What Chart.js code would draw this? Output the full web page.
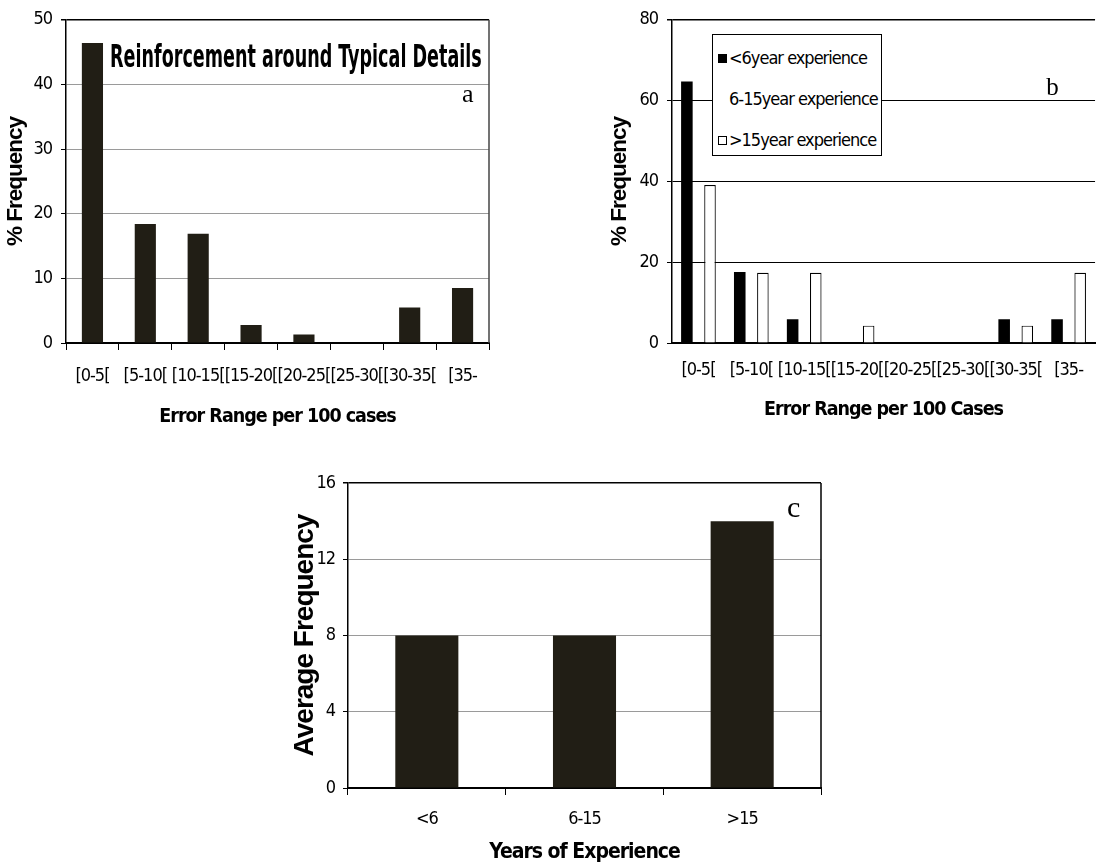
<!DOCTYPE html>
<html>
<head>
<meta charset="utf-8">
<script src="https://cdn.jsdelivr.net/npm/chart.js@4.4.0/dist/chart.umd.min.js"></script>
<style>
    html, body { margin: 0; padding: 0; width: 1097px; height: 868px; overflow: hidden; background: #fff; }
    .panel { position: absolute; }
    #legendB {
        position: absolute; left: 712px; top: 34px; width: 170px; height: 122px;
        border: 1px solid #000; background: #fff; box-sizing: border-box;
        padding-top: 2px;
        font-family: 'DejaVu Sans Condensed', 'Liberation Sans Narrow', sans-serif;
        font-size: 18px; letter-spacing: -1px; color: #000;
    }
    #legendB .row { height: 41px; line-height: 41px; white-space: nowrap; }
    #legendB .mark { display: inline-block; width: 9px; height: 9px; margin: 0 2px 0 5px; box-sizing: border-box; vertical-align: middle; position: relative; top: -1px; }
</style>
</head>
<body>
<div class="panel" style="left:0;top:0;"><canvas id="chart-a" width="500" height="432"></canvas></div>
<div class="panel" style="left:560px;top:0;"><canvas id="chart-b" width="540" height="432"></canvas></div>
<div id="legendB"></div>
<div class="panel" style="left:260px;top:440px;"><canvas id="chart-c" width="580" height="428"></canvas></div>

<script>
// ==================== DATOS ====================
const rangeLabels = ['[0-5[', '[5-10[', '[10-15[', '[15-20[', '[20-25[', '[25-30[', '[30-35[', '[35-'];

// (a) Reinforcement around Typical Details
const typicalDetailsPct = [46.4, 18.4, 16.9, 2.8, 1.3, 0, 5.5, 8.5];

// (b) por experiencia
const expGroupLabels = ['<6year experience', '6-15year experience', '>15year experience'];
const under6Pct  = [64.7, 17.6, 5.9, 0, 0, 0, 5.9, 5.9];
const from6to15Pct = [null, null, null, null, null, null, null, null]; // serie sin barras visibles
const over15Pct  = [39.1, 17.4, 17.4, 4.3, 0, 0, 4.3, 17.4];

// (c) promedio por a침os
const yearsLabels = ['<6', '6-15', '>15'];
const avgFrequency = [8, 8, 14];

// ==================== ESTILO ====================
const NARROW = "'DejaVu Sans Condensed', 'Liberation Sans Narrow', sans-serif";
const ARIAL = "'Liberation Sans', Arial, sans-serif";
const SERIF = "'Liberation Serif', 'Times New Roman', serif";
const BAR_DARK = '#211e15';

Chart.defaults.font.family = NARROW;
Chart.defaults.color = '#000';
Chart.defaults.animation = false;

/**
 * Plugin: texto estrecho, borde derecho, letra del panel y t칤tulo interno
 */
const panelDecor = {
    id: 'panelDecor',
    beforeUpdate(chart) {
        chart.ctx.letterSpacing = '-1px';
    },
    beforeDraw(chart) {
        chart.ctx.letterSpacing = '-1px';
    },
    afterDraw(chart, args, opts) {
        const ctx = chart.ctx;
        const a = chart.chartArea;
        ctx.save();
        ctx.letterSpacing = '0px';
        if (opts.rightBorder) {
            ctx.strokeStyle = opts.rightBorder;
            ctx.lineWidth = 1.5;
            ctx.beginPath();
            ctx.moveTo(a.right, a.top);
            ctx.lineTo(a.right, a.bottom);
            ctx.stroke();
        }
        if (opts.title) {
            const t = opts.title;
            ctx.font = t.font;
            ctx.fillStyle = '#000';
            ctx.textAlign = 'left';
            ctx.textBaseline = 'alphabetic';
            const w = ctx.measureText(t.text).width;
            const target = t.width * a.width;
            ctx.translate(a.left + t.x * a.width, a.top + t.y * a.height);
            ctx.scale(target / w, 1);
            ctx.fillText(t.text, 0, 0);
            ctx.setTransform(1, 0, 0, 1, 0, 0);
        }
        if (opts.letter) {
            const l = opts.letter;
            ctx.font = l.font;
            ctx.fillStyle = '#000';
            ctx.textAlign = 'center';
            ctx.textBaseline = 'alphabetic';
            ctx.fillText(l.text, a.left + l.x * a.width, a.top + l.y * a.height);
        }
        ctx.restore();
    }
};

function yScale(max, step, opts) {
    return {
        min: 0,
        max: max,
        afterFit: function(scale) { scale.width = opts.width; },
        ticks: {
            stepSize: step,
            padding: opts.tickPad,
            font: { size: 18, family: NARROW },
            color: '#000'
        },
        grid: {
            color: function(c) { return c.tick.value === max ? '#000' : opts.gridColor; },
            lineWidth: function(c) { return c.tick.value === max ? 1.5 : 1; },
            drawTicks: true,
            tickLength: 5,
            tickColor: '#000'
        },
        border: { display: true, color: '#000', width: 1.5 },
        title: {
            display: true,
            text: opts.title,
            font: { size: opts.titleSize, weight: 'bold', family: ARIAL },
            padding: { top: opts.titlePad, bottom: 0 },
            color: '#000'
        }
    };
}

function xScale(labels, opts) {
    return {
        type: 'category',
        labels: labels,
        afterFit: function(scale) { scale.height = opts.height; },
        ticks: {
            autoSkip: false,
            maxRotation: 0,
            minRotation: 0,
            padding: opts.tickPad,
            font: { size: 18, family: NARROW },
            color: '#000'
        },
        grid: opts.ticks ? {
            display: true,
            drawOnChartArea: false,
            drawTicks: true,
            tickLength: 7,
            tickColor: '#000',
            color: '#000'
        } : { display: false, drawTicks: false },
        border: { display: true, color: '#000', width: 2 },
        title: {
            display: true,
            text: opts.title,
            font: { size: opts.titleSize, weight: 'bold', family: NARROW },
            padding: { top: 0, bottom: opts.titlePad },
            color: '#000'
        }
    };
}

// ==================== PANEL A ====================
new Chart(document.getElementById('chart-a'), {
    type: 'bar',
    data: {
        labels: rangeLabels,
        datasets: [{
            label: 'Reinforcement around Typical Details',
            data: typicalDetailsPct,
            backgroundColor: BAR_DARK,
            borderWidth: 0,
            barPercentage: 0.4,
            categoryPercentage: 1
        }]
    },
    options: {
        responsive: false,
        layout: { padding: { top: 19, right: 11, left: 0, bottom: 0 } },
        plugins: {
            legend: { display: false },
            tooltip: { enabled: false },
            panelDecor: {
                rightBorder: '#444',
                title: { text: 'Reinforcement around Typical Details', font: 'bold 32px ' + NARROW, x: 0.104, y: 0.147, width: 0.879 },
                letter: { text: 'a', font: '26px ' + SERIF, x: 0.950, y: 0.253 }
            }
        },
        scales: {
            x: xScale(rangeLabels, { height: 89, tickPad: 16, ticks: true, title: 'Error Range per 100 cases', titleSize: 19.5, titlePad: 3.6 }),
            y: yScale(50, 10, { width: 66, tickPad: 9, gridColor: '#9a9a9a', title: '% Frequency', titleSize: 22.5, titlePad: 2.5 })
        }
    },
    plugins: [panelDecor]
});

// ==================== PANEL B ====================
const seriesColors = ['#000', 'rgba(0,0,0,0)', '#fff'];
const seriesBorders = ['#000', 'rgba(0,0,0,0)', '#000'];
const seriesData = [under6Pct, from6to15Pct, over15Pct];

new Chart(document.getElementById('chart-b'), {
    type: 'bar',
    data: {
        labels: rangeLabels,
        datasets: expGroupLabels.map(function(lab, i) {
            return {
                label: lab,
                data: seriesData[i],
                backgroundColor: seriesColors[i],
                borderColor: seriesBorders[i],
                borderWidth: i === 2 ? 1.2 : 0,
                barPercentage: 1,
                categoryPercentage: 0.656
            };
        })
    },
    options: {
        responsive: false,
        layout: { padding: { top: 19, right: 0, left: 0, bottom: 0 } },
        plugins: {
            legend: { display: false },
            tooltip: { enabled: false },
            panelDecor: {
                letter: { text: 'b', font: '25px ' + SERIF, x: 0.8995, y: 0.2315 }
            }
        },
        scales: {
            x: xScale(rangeLabels, { height: 89, tickPad: 17, ticks: false, title: 'Error Range per 100 Cases', titleSize: 19.5, titlePad: 10 }),
            y: yScale(80, 20, { width: 112, tickPad: 9, gridColor: '#000', title: '% Frequency', titleSize: 22.5, titlePad: 46.5 })
        }
    },
    plugins: [panelDecor]
});

// Leyenda HTML del panel B
const legendBox = document.getElementById('legendB');
expGroupLabels.forEach(function(lab, i) {
    const row = document.createElement('div');
    row.className = 'row';
    const mark = document.createElement('span');
    mark.className = 'mark';
    mark.style.background = seriesColors[i];
    if (i === 2) mark.style.border = '1px solid #000';
    row.appendChild(mark);
    row.appendChild(document.createTextNode(lab));
    legendBox.appendChild(row);
});

// ==================== PANEL C ====================
new Chart(document.getElementById('chart-c'), {
    type: 'bar',
    data: {
        labels: yearsLabels,
        datasets: [{
            label: 'Average Frequency',
            data: avgFrequency,
            backgroundColor: BAR_DARK,
            borderWidth: 0,
            barPercentage: 0.4,
            categoryPercentage: 1
        }]
    },
    options: {
        responsive: false,
        layout: { padding: { top: 43, right: 19, left: 0, bottom: 0 } },
        plugins: {
            legend: { display: false },
            tooltip: { enabled: false },
            panelDecor: {
                rightBorder: '#000',
                letter: { text: 'c', font: '30px ' + SERIF, x: 0.942, y: 0.1115 }
            }
        },
        scales: {
            x: xScale(yearsLabels, { height: 80, tickPad: 14, ticks: true, title: 'Years of Experience', titleSize: 21, titlePad: 3.3 }),
            y: yScale(16, 4, { width: 88, tickPad: 8, gridColor: '#9a9a9a', title: 'Average Frequency', titleSize: 28, titlePad: 28 })
        }
    },
    plugins: [panelDecor]
});
</script>
</body>
</html>
